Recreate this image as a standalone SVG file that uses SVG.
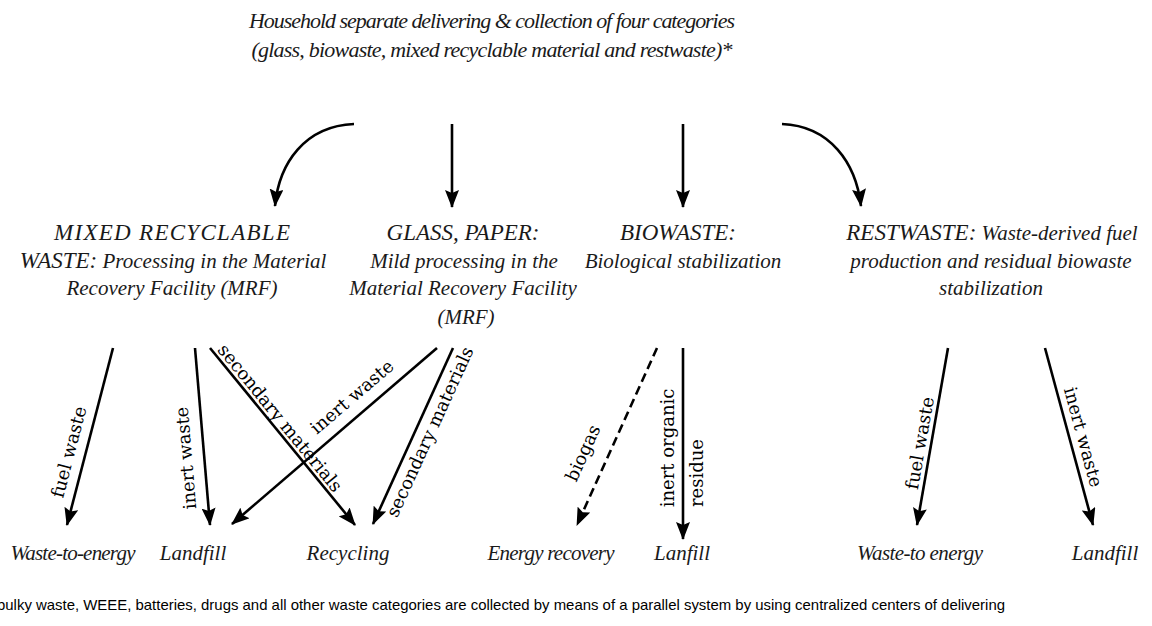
<svg xmlns="http://www.w3.org/2000/svg" width="1152" height="626" viewBox="0 0 1152 626">
<defs>
<marker id="ah" viewBox="0 0 18 14" refX="17" refY="7" markerWidth="18" markerHeight="14" markerUnits="userSpaceOnUse" orient="auto">
<path d="M0,0 L18,7 L0,14 L3,7 z" fill="#000"/>
</marker>
<style>
.t{font-family:"Liberation Serif",serif;font-style:italic;font-size:21px;fill:#1a1a1a;text-anchor:middle}
.h{font-size:22px}
.k{font-size:23px}
.l{font-family:"DejaVu Serif",serif;font-size:18px;fill:#000;text-anchor:middle}
.c{fill:none;stroke:#000;stroke-width:2.6;marker-end:url(#ah)}
.d{stroke-dasharray:9 5}
.f{font-family:"Liberation Sans",sans-serif;font-size:15px;fill:#000}
</style>
</defs>
<rect width="1152" height="626" fill="#fff"/>
<g id="title">
<text class="t h" x="492" y="28" textLength="486" lengthAdjust="spacing">Household separate delivering &amp; collection of four categories</text>
<text class="t h" x="492" y="57" textLength="481" lengthAdjust="spacing">(glass, biowaste, mixed recyclable material and restwaste)*</text>
</g>
<g id="connectors">
<path class="c" d="M354,124 C305,126 279,163 275,206"/>
<path class="c" d="M452,124 L452,207"/>
<path class="c" d="M683,124 L683,207"/>
<path class="c" d="M782,124 C830,126 856,163 861,206"/>
<path class="c" d="M113,348 L67,525"/>
<path class="c" d="M195,348 L210,525"/>
<path class="c" d="M210,348 L355,525"/>
<path class="c" d="M437,348 L232,524"/>
<path class="c" d="M453,348 L373,524"/>
<path class="c d" d="M657,348 L577,525"/>
<path class="c" d="M683,348 L683,539"/>
<path class="c" d="M948,348 L917,525"/>
<path class="c" d="M1045,348 L1093,525"/>
</g>
<g id="edge-labels">
<text class="l" transform="translate(69,452) rotate(-75.4)" y="6">fuel waste</text>
<text class="l" transform="translate(186,458) rotate(-94.8)" y="6">inert waste</text>
<text class="l" transform="translate(280,418) rotate(50.7)" y="6">secondary materials</text>
<text class="l" transform="translate(352,397) rotate(-40.5)" y="6">inert waste</text>
<text class="l" transform="translate(430,432) rotate(-65.4)" y="6">secondary materials</text>
<text class="l" transform="translate(583,453) rotate(-65.7)" y="6">biogas</text>
<text class="l" transform="translate(668,448) rotate(-90)" y="6">inert organic</text>
<text class="l" transform="translate(697,473) rotate(-90)" y="6">residue</text>
<text class="l" transform="translate(920,443) rotate(-80.1)" y="6">fuel waste</text>
<text class="l" transform="translate(1083,437) rotate(74.8)" y="6">inert waste</text>
</g>
<g id="node-mrf">
<text class="t k" x="172" y="240" textLength="236" lengthAdjust="spacing">MIXED RECYCLABLE</text>
<text class="t" x="173" y="268"><tspan class="k">WASTE:</tspan> Processing in the Material</text>
<text class="t" x="172" y="295">Recovery Facility (MRF)</text>
</g>
<g id="node-glass">
<text class="t k" x="463" y="240">GLASS, PAPER:</text>
<text class="t" x="464" y="268">Mild processing in the</text>
<text class="t" x="463" y="295">Material Recovery Facility</text>
<text class="t" x="466" y="324">(MRF)</text>
</g>
<g id="node-bio">
<text class="t k" x="678" y="240">BIOWASTE:</text>
<text class="t" x="683" y="268">Biological stabilization</text>
</g>
<g id="node-rest">
<text class="t" x="992" y="240"><tspan class="k">RESTWASTE:</tspan> Waste-derived fuel</text>
<text class="t" x="991" y="268">production and residual biowaste</text>
<text class="t" x="991" y="295">stabilization</text>
</g>
<g id="node-wte1"><text class="t" x="73" y="560" textLength="125" lengthAdjust="spacing">Waste-to-energy</text></g>
<g id="node-landfill1"><text class="t" x="193" y="560">Landfill</text></g>
<g id="node-recycling"><text class="t" x="348" y="560">Recycling</text></g>
<g id="node-energy"><text class="t" x="551" y="560" textLength="127" lengthAdjust="spacing">Energy recovery</text></g>
<g id="node-lanfill"><text class="t" x="682" y="560">Lanfill</text></g>
<g id="node-wte2"><text class="t" x="920" y="560" textLength="126" lengthAdjust="spacing">Waste-to energy</text></g>
<g id="node-landfill2"><text class="t" x="1105" y="560">Landfill</text></g>
<g id="footnote">
<text class="f" x="-3" y="610" textLength="1008" lengthAdjust="spacingAndGlyphs">bulky waste, WEEE, batteries, drugs and all other waste categories are collected by means of a parallel system by using centralized centers of delivering</text>
</g>
</svg>
